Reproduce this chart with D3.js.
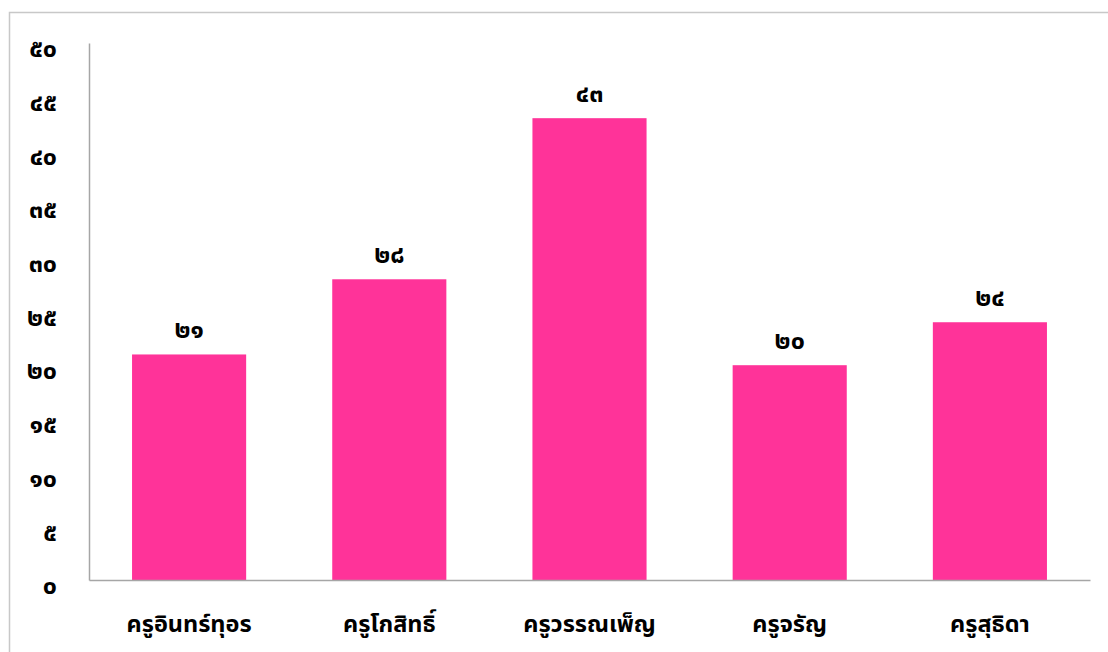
<!DOCTYPE html>
<html><head><meta charset="utf-8">
<script src="https://cdn.jsdelivr.net/npm/d3@7"></script>
<style>body{margin:0;background:#fff}svg{display:block}</style>
</head><body>
<svg id="c" width="1108" height="652"></svg>
<script>
const categories = ["ครูอินทร์ทุอร","ครูโกสิทธิ์","ครูวรรณเพ็ญ","ครูจรัญ","ครูสุธิดา"];
const values = [21, 28, 43, 20, 24];
const yTicks = [0,5,10,15,20,25,30,35,40,45,50];
const thaiDigits = "๐๑๒๓๔๕๖๗๘๙";
const toThai = n => String(n).replace(/[0-9]/g, d => thaiDigits[+d]);

const svg = d3.select("#c");
const font = "'Noto Sans Thai','Noto Sans Thai UI','Leelawadee UI',Tahoma,'Noto Sans',sans-serif";
const m = {l:89, r:1090, t:43, b:580};

svg.append("rect").attr("x",9.5).attr("y",12.5).attr("width",1120).attr("height",700)
  .attr("fill","none").attr("stroke","#c8c8c8").attr("stroke-width",1.5);

const x = d3.scaleBand().domain(categories).range([m.l, m.r]).paddingInner(0.43).paddingOuter(0.215);
const y = d3.scaleLinear().domain([0,50]).range([m.b, m.t]);

svg.selectAll("rect.bar").data(values).join("rect").attr("class","bar")
  .attr("x",(d,i)=>x(categories[i])).attr("width",x.bandwidth())
  .attr("y",d=>y(d)).attr("height",d=>y(0)-y(d)).attr("fill","#FF3399");

const yAxis = svg.append("g").attr("transform",`translate(${m.l},0)`)
  .call(d3.axisLeft(y).tickValues(yTicks).tickSize(0).tickPadding(32).tickFormat(toThai));
yAxis.select(".domain").attr("stroke","#a6a6a6").attr("stroke-width",1.5);
yAxis.selectAll("text").attr("font-family",font).attr("font-size",25).attr("font-weight","bold").attr("fill","#000").attr("dy","0.55em");

const xAxis = svg.append("g").attr("transform",`translate(0,${m.b})`)
  .call(d3.axisBottom(x).tickSize(0).tickPadding(35).tickFormat(d=>d));
xAxis.select(".domain").attr("stroke","#a6a6a6").attr("stroke-width",1.5);
xAxis.selectAll("text").attr("font-family",font).attr("font-size",23.5).attr("font-weight","bold").attr("fill","#000");

svg.selectAll("text.val").data(values).join("text").attr("class","val")
  .attr("x",(d,i)=>x(categories[i])+x.bandwidth()/2).attr("y",d=>y(d)-24)
  .attr("text-anchor","middle").attr("dominant-baseline","central")
  .attr("font-family",font).attr("font-size",25).attr("font-weight","bold").text(toThai);
</script>
</body></html>
